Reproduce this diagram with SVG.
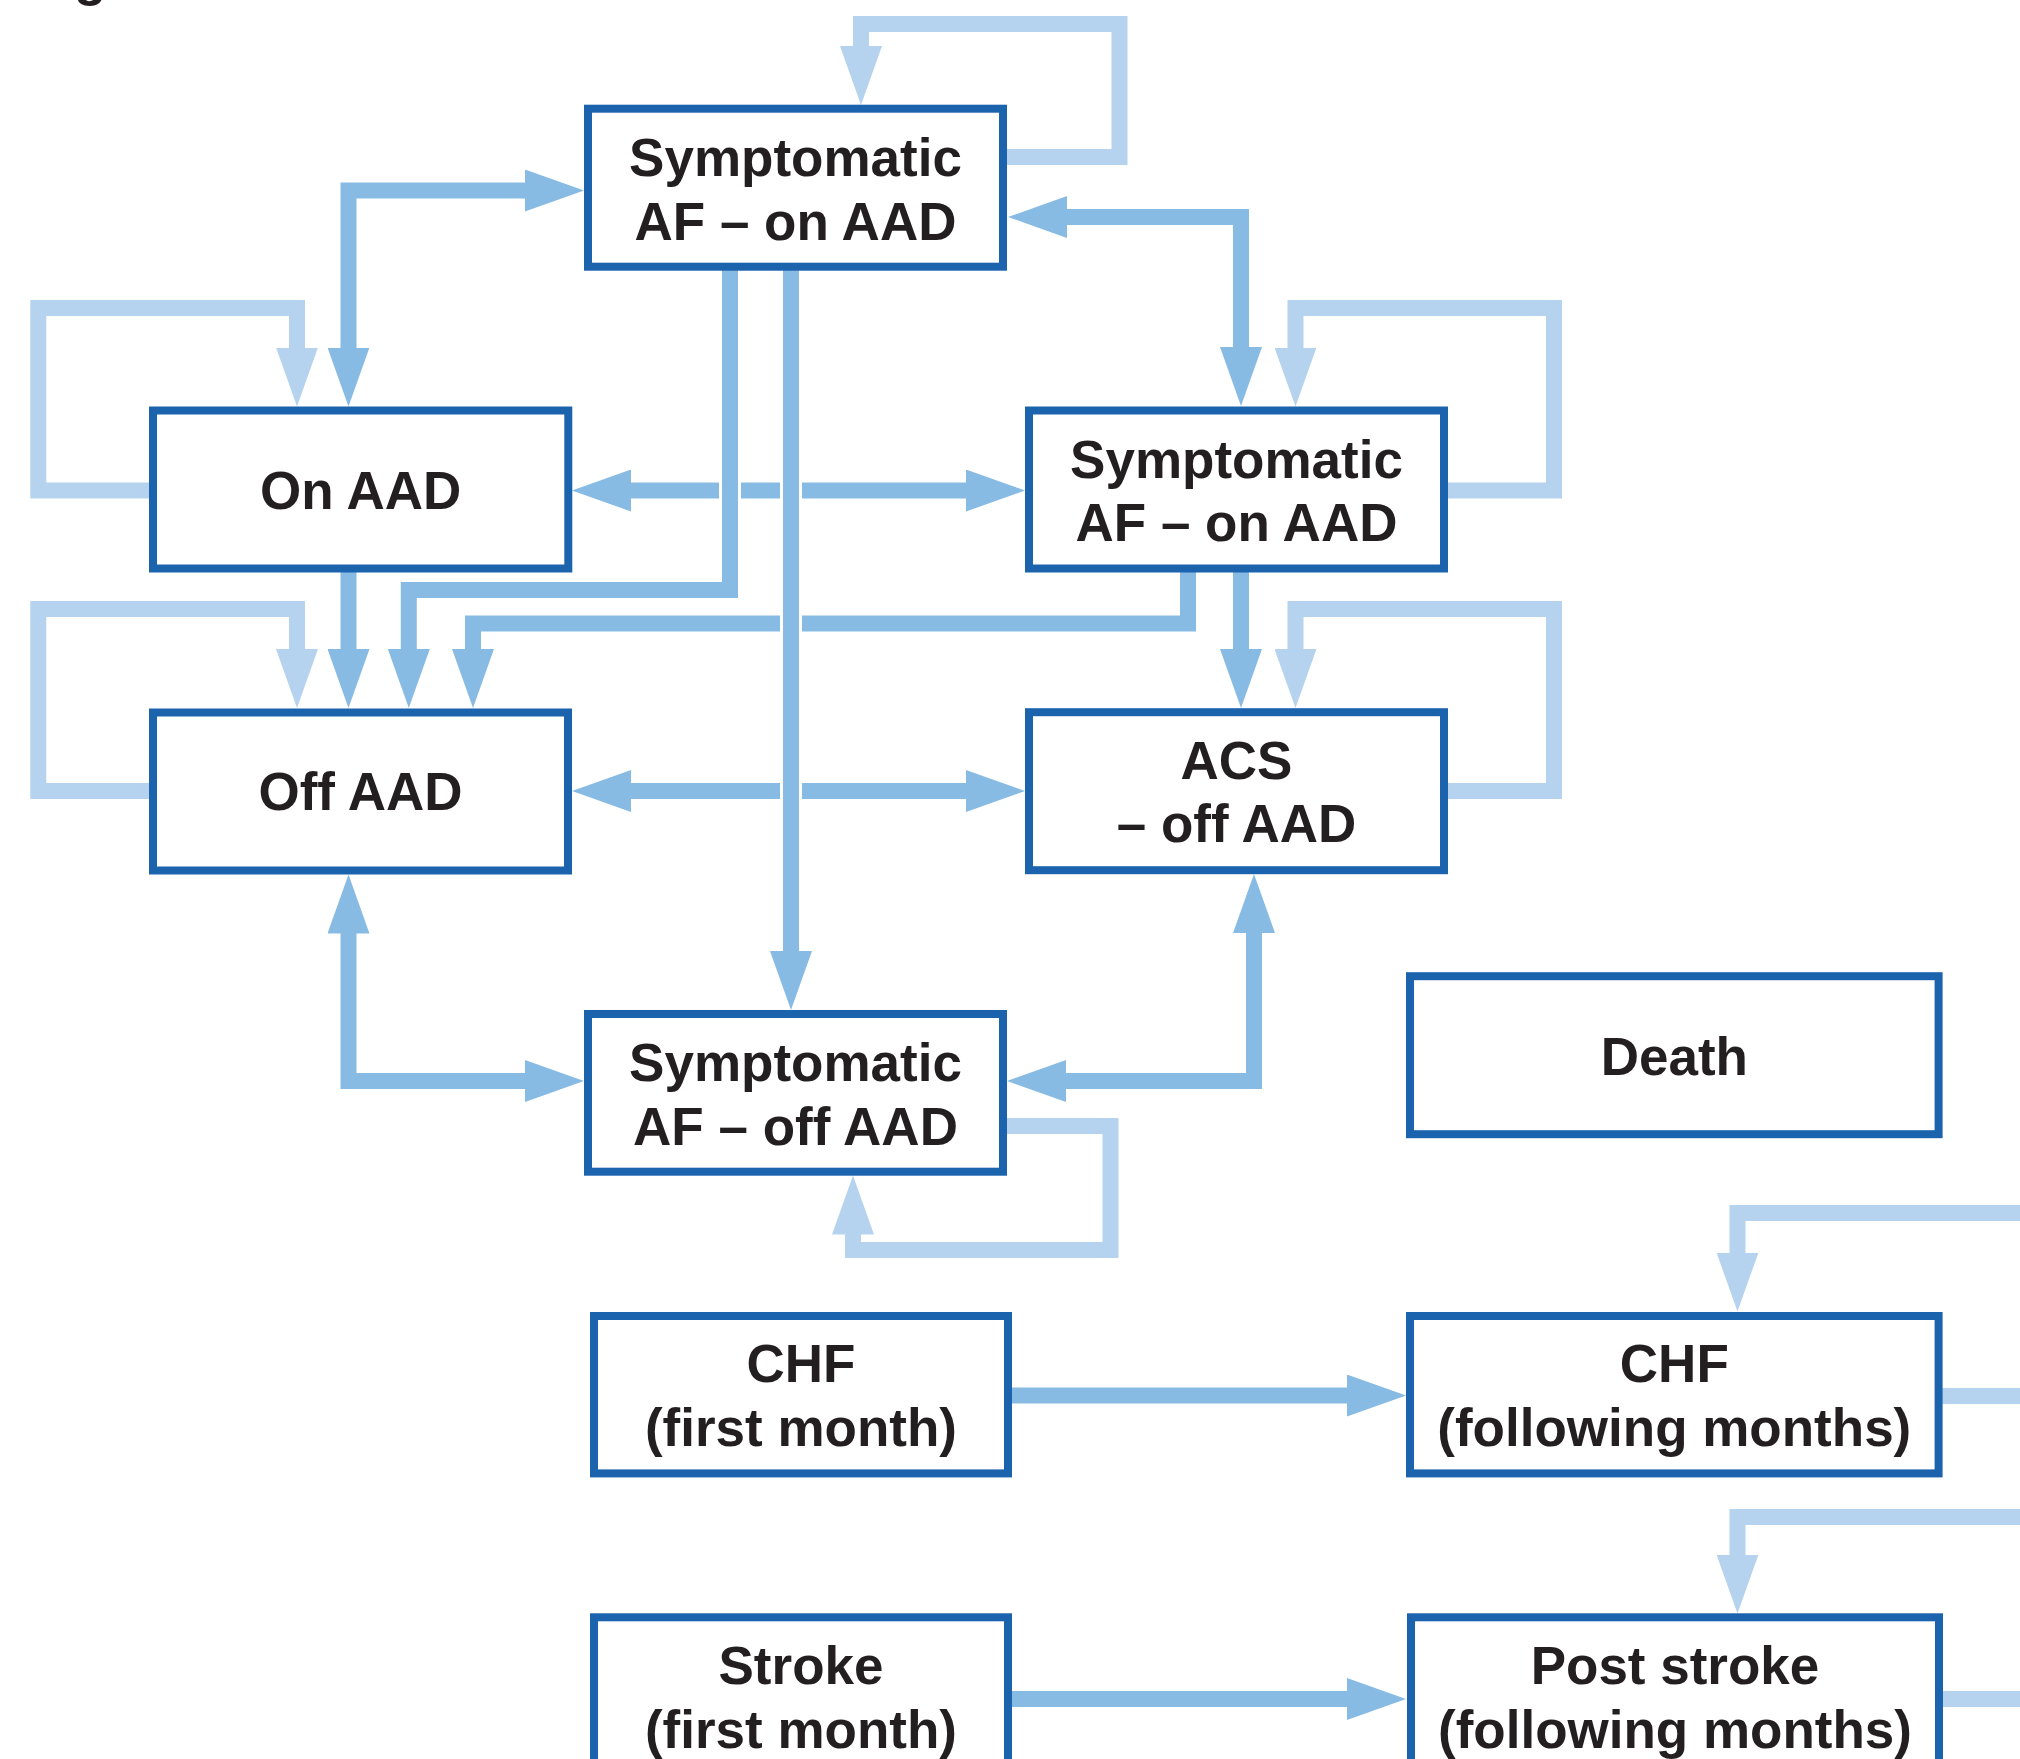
<svg xmlns="http://www.w3.org/2000/svg" width="2020" height="1759" viewBox="0 0 2020 1759">
<style>
.box{fill:#fff;stroke:#1c63ae;stroke-width:8}
.lbl{font-family:"Liberation Sans",Arial,Helvetica,sans-serif;font-weight:bold;font-size:53px;fill:#231f20;text-anchor:middle}
.mid{fill:none;stroke:#88bbe4;stroke-width:16;stroke-linejoin:miter;stroke-linecap:butt}
.lt{fill:none;stroke:#b5d3ee;stroke-width:16;stroke-linejoin:miter;stroke-linecap:butt}
.mh{marker-end:url(#hm)}
.mh2{marker-start:url(#hm);marker-end:url(#hm)}
.lh{marker-end:url(#hl)}
.gap{fill:none;stroke:#fff;stroke-width:22}
</style>
<defs>
<marker id="hm" markerUnits="userSpaceOnUse" markerWidth="59" markerHeight="42" viewBox="-1 0 59 42" refX="0" refY="21" orient="auto-start-reverse"><path d="M-1,0 L58,21 L-1,42 z" fill="#88bbe4"/></marker>
<marker id="hl" markerUnits="userSpaceOnUse" markerWidth="59" markerHeight="42" viewBox="-1 0 59 42" refX="0" refY="21" orient="auto-start-reverse"><path d="M-1,0 L58,21 L-1,42 z" fill="#b5d3ee"/></marker>
</defs>
<rect width="2020" height="1759" fill="#fff"/>
<text class="lbl" x="74" y="-5" text-anchor="start" style="text-anchor:start">g</text>
<g id="connectors">
<path class="mid mh2" d="M630,490.5 H967"/>
<path class="mid mh2" d="M630,791 H967"/>
<path class="mid mh" d="M1188,572 V623.5 H473 V650"/>
<path class="gap" d="M730,478 V503"/>
<path class="gap" d="M791,478 V503"/>
<path class="gap" d="M791,611 V636"/>
<path class="gap" d="M791,778 V804"/>
<path class="mid mh2" d="M348.5,348.5 V190.5 H526"/>
<path class="mid mh2" d="M1066,217 H1241 V348"/>
<path class="mid mh" d="M348.5,572 V650"/>
<path class="mid mh" d="M730,270 V590 H408.8 V650"/>
<path class="mid mh" d="M791,270 V952"/>
<path class="mid mh" d="M1241,572 V650"/>
<path class="mid mh2" d="M348.5,932.5 V1081 H526"/>
<path class="mid mh2" d="M1254,932 V1081 H1065"/>
<path class="mid mh" d="M1012,1395.5 H1348"/>
<path class="mid mh" d="M1012,1699 H1348"/>
<path class="lt lh" d="M1007,157 H1119.5 V24 H861 V47"/>
<path class="lt lh" d="M149,490.5 H38.3 V308 H297 V348.5"/>
<path class="lt lh" d="M149,791 H38.3 V609 H297 V650"/>
<path class="lt lh" d="M1448,490.5 H1554 V308 H1295.5 V348.5"/>
<path class="lt lh" d="M1448,791 H1554 V609 H1295.5 V650"/>
<path class="lt lh" d="M1007,1126 H1110.5 V1250 H853 V1233.5"/>
<path class="lt lh" d="M2030,1213 H1737.5 V1253.5"/>
<path class="lt" d="M1942,1396 H2030"/>
<path class="lt lh" d="M2030,1517 H1737.5 V1555.5"/>
<path class="lt" d="M1943,1699 H2030"/>
</g>
<g id="n1"><rect class="box" x="588" y="108.7" width="415" height="158"/><text class="lbl" x="795.5" y="175.5">Symptomatic</text><text class="lbl" x="795.5" y="239.5">AF – on AAD</text></g>
<g id="n2"><rect class="box" x="153" y="410.5" width="415.3" height="158"/><text class="lbl" x="360.7" y="508.5">On AAD</text></g>
<g id="n3"><rect class="box" x="1029" y="410.5" width="415" height="158"/><text class="lbl" x="1236.5" y="477.5">Symptomatic</text><text class="lbl" x="1236.5" y="541">AF – on AAD</text></g>
<g id="n4"><rect class="box" x="153" y="712.5" width="415" height="158"/><text class="lbl" x="360.5" y="810">Off AAD</text></g>
<g id="n5"><rect class="box" x="1029" y="712.2" width="415" height="158"/><text class="lbl" x="1236.5" y="778.5">ACS</text><text class="lbl" x="1236.5" y="842">– off AAD</text></g>
<g id="n6"><rect class="box" x="588" y="1014" width="415" height="157.7"/><text class="lbl" x="795.5" y="1081">Symptomatic</text><text class="lbl" x="795.5" y="1144.5">AF – off AAD</text></g>
<g id="n7"><rect class="box" x="1410" y="976.2" width="528.6" height="158"/><text class="lbl" x="1674.3" y="1074.8">Death</text></g>
<g id="n8"><rect class="box" x="594" y="1316" width="414" height="157.4"/><text class="lbl" x="801" y="1382">CHF</text><text class="lbl" x="801" y="1446">(first month)</text></g>
<g id="n9"><rect class="box" x="1410" y="1316" width="528.6" height="157.4"/><text class="lbl" x="1674.3" y="1382">CHF</text><text class="lbl" x="1674.3" y="1446">(following months)</text></g>
<g id="n10"><rect class="box" x="594" y="1617.3" width="414" height="158"/><text class="lbl" x="801" y="1683.5">Stroke</text><text class="lbl" x="801" y="1747.5">(first month)</text></g>
<g id="n11"><rect class="box" x="1411" y="1617.3" width="528" height="158"/><text class="lbl" x="1675" y="1684">Post stroke</text><text class="lbl" x="1675" y="1748">(following months)</text></g>
</svg>
